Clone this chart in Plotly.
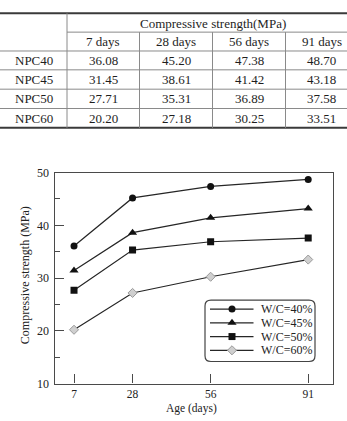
import plotly.graph_objects as go

W, H = 347, 421

# ---------------- data ----------------
ages = [7, 28, 56, 91]
age_labels = ["7 days", "28 days", "56 days", "91 days"]
mixes = ["NPC40", "NPC45", "NPC50", "NPC60"]
series_names = ["W/C=40%", "W/C=45%", "W/C=50%", "W/C=60%"]
npc40 = [36.08, 45.20, 47.38, 48.70]
npc45 = [31.45, 38.61, 41.42, 43.18]
npc50 = [27.71, 35.31, 36.89, 37.58]
npc60 = [20.20, 27.18, 30.25, 33.51]
y_ticks = [10, 20, 30, 40, 50]
header_text = "Compressive strength(MPa)"

values = [npc40, npc45, npc50, npc60]

FONT = "Liberation Serif"


def fx(px):
    return px / W


def fy(py):
    return 1 - py / H


fig = go.Figure()
shapes = []
annotations = []

# ---------------- table ----------------
col_edges = [0, 67, 139.5, 212.5, 285.5, 358]
row_lines = [6.5, 26, 45.5, 65, 85, 105, 125]
tab_line = "#8a8a8a"
tab_dark = "#3a3a3a"


def hline(y, x0, x1, color, width):
    shapes.append(dict(type="line", xref="paper", yref="paper",
                       x0=fx(x0), x1=fx(x1), y0=fy(y), y1=fy(y),
                       line=dict(color=color, width=width)))


def vline(x, y0, y1, color, width):
    shapes.append(dict(type="line", xref="paper", yref="paper",
                       x0=fx(x), x1=fx(x), y0=fy(y0), y1=fy(y1),
                       line=dict(color=color, width=width)))


hline(row_lines[0], 0, W, tab_dark, 2)
hline(row_lines[1], col_edges[1], W, tab_line, 1)
for y in row_lines[2:6]:
    hline(y, 0, W, tab_line, 1)
hline(row_lines[6], 0, W, tab_dark, 2)
vline(col_edges[1], row_lines[0], row_lines[6], tab_line, 1)
for x in col_edges[2:5]:
    vline(x, row_lines[1], row_lines[6], tab_line, 1)


def tab_text(txt, xc, yc):
    annotations.append(dict(text=txt, xref="paper", yref="paper",
                            x=fx(xc), y=fy(yc), xanchor="center", yanchor="middle",
                            showarrow=False,
                            font=dict(family=FONT, size=13, color="#1e1e1e")))


tab_text(header_text, (col_edges[1] + col_edges[5]) / 2, (row_lines[0] + row_lines[1]) / 2 + 0.5)
for j, lab in enumerate(age_labels):
    tab_text(lab, (col_edges[j + 1] + col_edges[j + 2]) / 2, (row_lines[1] + row_lines[2]) / 2)
for i, mix in enumerate(mixes):
    yc = (row_lines[i + 2] + row_lines[i + 3]) / 2
    tab_text(mix, (col_edges[0] + col_edges[1]) / 2, yc)
    for j, v in enumerate(values[i]):
        tab_text(f"{v:.2f}", (col_edges[j + 1] + col_edges[j + 2]) / 2, yc)

# ---------------- chart ----------------
PL, PR, PT, PB = 54.5, 333.3, 171.3, 389.5
line_col = "#262626"
markers = [
    dict(symbol="circle", size=7, color="#111111"),
    dict(symbol="triangle-up", size=8, color="#111111"),
    dict(symbol="square", size=7, color="#111111"),
    dict(symbol="diamond", size=7, color="#cfcfcf", line=dict(color="#9a9a9a", width=1)),
]

for name, vals, mk in zip(series_names, values, markers):
    fig.add_trace(go.Scatter(x=ages, y=vals, name=name, mode="lines+markers",
                             line=dict(color=line_col, width=1.2),
                             marker=mk, showlegend=False, xaxis="x", yaxis="y"))

# ---------------- custom legend (pixel overlay axes) ----------------
LX0, LX1, LY0, LY1 = 205, 315, 303.3, 366.7
row_y0, row_dy = 312.5, 14.2
seg_x0, seg_x1, mark_x, text_x = 210, 253.5, 232, 258.5
for i, (name, mk) in enumerate(zip(series_names, markers)):
    ry = row_y0 + i * row_dy
    fig.add_trace(go.Scatter(x=[seg_x0, seg_x1], y=[ry, ry], mode="lines",
                             line=dict(color=line_col, width=1.2),
                             showlegend=False, hoverinfo="skip", xaxis="x2", yaxis="y2"))
    fig.add_trace(go.Scatter(x=[mark_x], y=[ry], mode="markers", marker=mk,
                             showlegend=False, hoverinfo="skip", xaxis="x2", yaxis="y2"))
    annotations.append(dict(text=name, xref="x2", yref="y2", x=text_x, y=ry,
                            xanchor="left", yanchor="middle", showarrow=False,
                            font=dict(family=FONT, size=12, color="#222222")))

r = 6
box_path = (f"M{LX0 + r},{LY0} L{LX1 - r},{LY0} Q{LX1},{LY0} {LX1},{LY0 + r} "
            f"L{LX1},{LY1 - r} Q{LX1},{LY1} {LX1 - r},{LY1} "
            f"L{LX0 + r},{LY1} Q{LX0},{LY1} {LX0},{LY1 - r} "
            f"L{LX0},{LY0 + r} Q{LX0},{LY0} {LX0 + r},{LY0} Z")
shapes.append(dict(type="path", xref="x2", yref="y2", path=box_path,
                   line=dict(color="#444444", width=1.2)))

# axis titles
annotations.append(dict(text="Age (days)", xref="paper", yref="paper",
                        x=fx((PL + PR) / 2 - 2), y=fy(415), xanchor="center", yanchor="middle",
                        showarrow=False, font=dict(family=FONT, size=11.5, color="#222222")))
annotations.append(dict(text="Compressive strength (MPa)", xref="paper", yref="paper",
                        x=fx(25), y=fy((PT + PB) / 2 - 3), xanchor="center", yanchor="middle",
                        textangle=-90, showarrow=False,
                        font=dict(family=FONT, size=12, color="#222222")))

axis_col = "#4a4a4a"
fig.update_layout(
    width=W, height=H,
    margin=dict(l=0, r=0, t=0, b=0),
    paper_bgcolor="white", plot_bgcolor="rgba(0,0,0,0)",
    showlegend=False,
    font=dict(family=FONT, size=12, color="#222222"),
    xaxis=dict(domain=[fx(PL), fx(PR)], range=[0, 100], tickvals=ages,
               ticktext=[str(a) for a in ages],
               ticks="inside", ticklen=9, tickwidth=1.2, tickcolor=axis_col,
               showline=True, linecolor=axis_col, linewidth=1.2, mirror=True,
               showgrid=False, zeroline=False, anchor="y", ticklabelstandoff=0,
               tickfont=dict(family=FONT, size=11.5, color="#222222"), fixedrange=True),
    yaxis=dict(domain=[fy(PB), fy(PT)], range=[10, 50], tickvals=y_ticks,
               ticks="inside", ticklen=9, tickwidth=1.2, tickcolor=axis_col,
               minor=dict(dtick=5, ticks="inside", ticklen=5, tickwidth=1.2, tickcolor=axis_col,
                          showgrid=False),
               showline=True, linecolor=axis_col, linewidth=1.2, mirror=True,
               showgrid=False, zeroline=False, anchor="x", ticklabelstandoff=2,
               tickfont=dict(family=FONT, size=12, color="#222222"), fixedrange=True),
    xaxis2=dict(domain=[0, 1], range=[0, W], visible=False, anchor="y2", fixedrange=True),
    yaxis2=dict(domain=[0, 1], range=[H, 0], visible=False, anchor="x2", fixedrange=True),
    shapes=shapes,
    annotations=annotations,
)

fig.write_html("out.html")
